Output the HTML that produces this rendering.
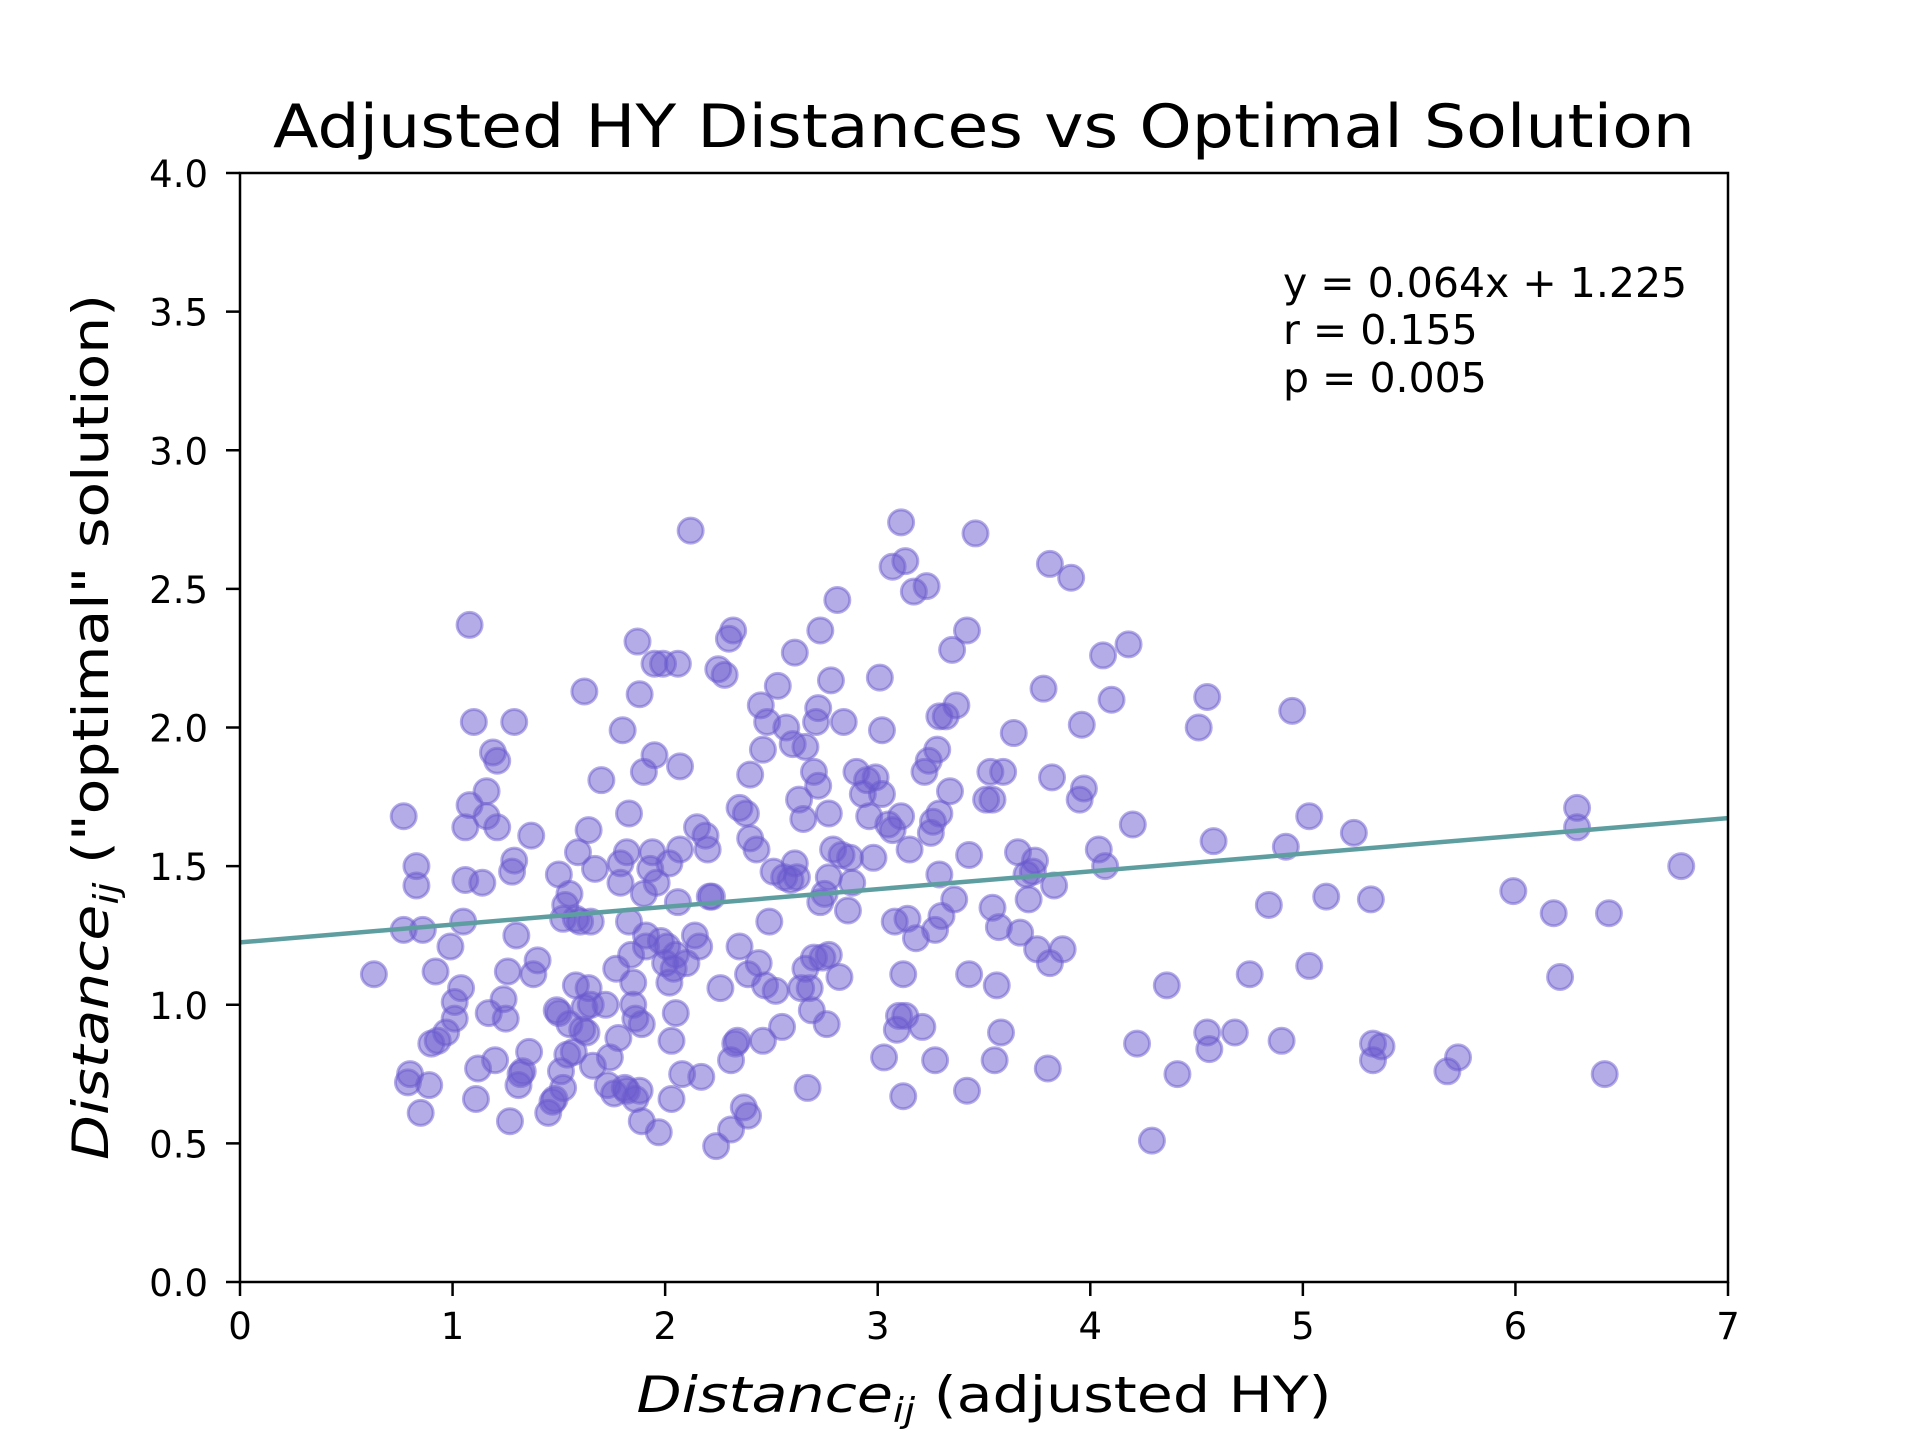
<!DOCTYPE html>
<html><head><meta charset="utf-8"><style>
html,body{margin:0;padding:0;background:#fff}
svg{display:block;font-family:"DejaVu Sans","Liberation Sans",sans-serif}
</style></head><body>
<svg id="chart" width="1920" height="1440" viewBox="0 0 1920 1440">
<rect width="1920" height="1440" fill="#fff"/>
<text x="984" y="147" font-size="60" text-anchor="middle" textLength="1422" lengthAdjust="spacingAndGlyphs">Adjusted HY Distances vs Optimal Solution</text>
<g id="ticks"></g>
<g id="points"></g>
<g id="fit"></g>
<rect x="240" y="173" width="1488" height="1109" fill="none" stroke="#000" stroke-width="2.5"/>
<g font-size="41">
<text x="1283" y="297">y = 0.064x + 1.225</text>
<text x="1283" y="344">r = 0.155</text>
<text x="1283" y="392">p = 0.005</text>
</g>
<text x="984" y="1412" font-size="50" text-anchor="middle" textLength="695" lengthAdjust="spacingAndGlyphs"><tspan font-style="italic">Distance</tspan><tspan font-style="italic" font-size="34" dy="10">ij</tspan><tspan dy="-10"> (adjusted HY)</tspan></text>
<text transform="translate(108,727) rotate(-90)" font-size="50" text-anchor="middle" textLength="866" lengthAdjust="spacingAndGlyphs"><tspan font-style="italic">Distance</tspan><tspan font-style="italic" font-size="34" dy="10">ij</tspan><tspan dy="-10"> ("optimal" solution)</tspan></text>
</svg>
<script>
const xTicks=[0,1,2,3,4,5,6,7];
const yTicks=[0.0,0.5,1.0,1.5,2.0,2.5,3.0,3.5,4.0];
const slope=0.064, intercept=1.225;
const xs=[0.63,0.77,0.77,0.79,0.80,0.83,0.83,0.85,0.86,0.89,0.90,0.92,0.93,0.97,0.99,1.01,1.01,1.04,1.05,1.06,1.06,1.08,1.08,1.10,1.11,1.12,1.14,1.16,1.16,1.17,1.19,1.20,1.21,1.21,1.24,1.25,1.26,1.27,1.28,1.29,1.29,1.30,1.31,1.32,1.33,1.36,1.37,1.38,1.40,1.45,1.47,1.48,1.49,1.50,1.50,1.51,1.52,1.52,1.53,1.54,1.55,1.55,1.57,1.58,1.58,1.59,1.60,1.61,1.62,1.62,1.63,1.64,1.64,1.65,1.65,1.66,1.67,1.70,1.72,1.73,1.74,1.76,1.77,1.78,1.79,1.79,1.80,1.81,1.82,1.82,1.83,1.83,1.84,1.85,1.85,1.86,1.86,1.87,1.88,1.88,1.89,1.89,1.90,1.90,1.91,1.91,1.93,1.94,1.95,1.95,1.96,1.97,1.98,1.99,2.00,2.01,2.02,2.02,2.03,2.03,2.04,2.05,2.05,2.06,2.06,2.07,2.07,2.08,2.10,2.12,2.14,2.15,2.16,2.17,2.19,2.20,2.21,2.22,2.24,2.25,2.26,2.28,2.30,2.31,2.31,2.32,2.33,2.34,2.35,2.35,2.37,2.38,2.39,2.39,2.40,2.40,2.43,2.44,2.45,2.46,2.46,2.47,2.48,2.49,2.51,2.52,2.53,2.55,2.56,2.57,2.59,2.60,2.61,2.61,2.62,2.63,2.64,2.65,2.66,2.66,2.67,2.68,2.69,2.70,2.70,2.71,2.72,2.72,2.73,2.73,2.74,2.75,2.76,2.77,2.77,2.77,2.78,2.79,2.81,2.82,2.83,2.84,2.86,2.87,2.88,2.90,2.93,2.95,2.96,2.98,2.99,3.01,3.02,3.02,3.03,3.05,3.07,3.07,3.08,3.09,3.10,3.11,3.11,3.12,3.12,3.13,3.13,3.14,3.15,3.17,3.18,3.21,3.22,3.23,3.24,3.25,3.26,3.27,3.27,3.28,3.29,3.29,3.29,3.30,3.32,3.34,3.35,3.36,3.37,3.42,3.42,3.43,3.43,3.46,3.51,3.53,3.54,3.54,3.55,3.56,3.57,3.58,3.59,3.64,3.66,3.67,3.70,3.71,3.73,3.74,3.75,3.78,3.80,3.81,3.81,3.82,3.83,3.87,3.91,3.95,3.96,3.97,4.04,4.06,4.07,4.10,4.18,4.20,4.22,4.29,4.36,4.41,4.51,4.55,4.55,4.56,4.58,4.68,4.75,4.84,4.90,4.92,4.95,5.03,5.03,5.11,5.24,5.32,5.33,5.33,5.37,5.68,5.73,5.99,6.18,6.21,6.29,6.29,6.42,6.44,6.78];
const ys=[1.11,1.27,1.68,0.72,0.75,1.43,1.50,0.61,1.27,0.71,0.86,1.12,0.87,0.90,1.21,0.95,1.01,1.06,1.30,1.45,1.64,1.72,2.37,2.02,0.66,0.77,1.44,1.68,1.77,0.97,1.91,0.80,1.64,1.88,1.02,0.95,1.12,0.58,1.48,1.52,2.02,1.25,0.71,0.75,0.76,0.83,1.61,1.11,1.16,0.61,0.65,0.66,0.98,0.97,1.47,0.76,1.31,0.70,1.36,0.82,1.40,0.93,0.83,1.07,1.31,1.55,1.30,0.91,0.99,2.13,0.90,1.06,1.63,1.00,1.30,0.78,1.49,1.81,1.00,0.71,0.81,0.68,1.13,0.88,1.51,1.44,1.99,0.70,1.55,0.69,1.30,1.69,1.18,1.08,1.00,0.95,0.66,2.31,0.69,2.12,0.93,0.58,1.40,1.84,1.21,1.25,1.49,1.55,2.23,1.90,1.44,0.54,1.23,2.23,1.15,1.21,1.51,1.08,0.87,0.66,1.13,1.18,0.97,1.37,2.23,1.86,1.56,0.75,1.15,2.71,1.25,1.64,1.21,0.74,1.61,1.56,1.39,1.39,0.49,2.21,1.06,2.19,2.32,0.55,0.80,2.35,0.86,0.87,1.71,1.21,0.63,1.69,0.60,1.11,1.83,1.60,1.56,1.15,2.08,0.87,1.92,1.07,2.02,1.30,1.48,1.05,2.15,0.92,1.46,2.00,1.45,1.94,2.27,1.51,1.46,1.74,1.06,1.67,1.13,1.93,0.70,1.06,0.98,1.84,1.17,2.02,1.79,2.07,1.37,2.35,1.17,1.40,0.93,1.46,1.18,1.69,2.17,1.56,2.46,1.10,1.54,2.02,1.34,1.53,1.44,1.84,1.76,1.81,1.68,1.53,1.82,2.18,1.99,1.76,0.81,1.65,2.58,1.63,1.30,0.91,0.96,2.74,1.68,1.11,0.67,0.96,2.60,1.31,1.56,2.49,1.24,0.92,1.84,2.51,1.88,1.62,1.66,1.27,0.80,1.92,2.04,1.69,1.47,1.32,2.04,1.77,2.28,1.38,2.08,0.69,2.35,1.11,1.54,2.70,1.74,1.84,1.35,1.74,0.80,1.07,1.28,0.90,1.84,1.98,1.55,1.26,1.47,1.38,1.48,1.52,1.20,2.14,0.77,2.59,1.15,1.82,1.43,1.20,2.54,1.74,2.01,1.78,1.56,2.26,1.50,2.10,2.30,1.65,0.86,0.51,1.07,0.75,2.00,2.11,0.90,0.84,1.59,0.90,1.11,1.36,0.87,1.57,2.06,1.68,1.14,1.39,1.62,1.38,0.86,0.80,0.85,0.76,0.81,1.41,1.33,1.10,1.71,1.64,0.75,1.33,1.50];
const NS='http://www.w3.org/2000/svg';
const L=240,R=1728,T=173,B=1282;
const sx=v=>L+(v-0)/(7-0)*(R-L);
const sy=v=>B-(v-0)/(4-0)*(B-T);
const tg=document.getElementById('ticks');
function mk(tag,attrs,parent){const e=document.createElementNS(NS,tag);for(const k in attrs)e.setAttribute(k,attrs[k]);parent.appendChild(e);return e;}
xTicks.forEach(t=>{
  const ln=mk('line',{x1:sx(t),x2:sx(t),y1:B,y2:B+14,stroke:'#000','stroke-width':2.5},tg);
  
  
  const tx=mk('text',{x:sx(t),y:B+57,'font-size':37,'text-anchor':'middle'},tg);
  tx.textContent=String(t);
  
  
});
yTicks.forEach(t=>{
  const ln=mk('line',{x1:L-14,x2:L,y1:sy(t),y2:sy(t),stroke:'#000','stroke-width':2.5},tg);
  
  
  const tx=mk('text',{x:L-32,y:sy(t)+14,'font-size':37,'text-anchor':'end'},tg);
  tx.textContent=t.toFixed(1);
  
  
});
const pg=document.getElementById('points');
xs.forEach((x,i)=>{
  const c=mk('circle',{cx:sx(x),cy:sy(ys[i]),r:12.5,fill:'#6a5acd','fill-opacity':0.5,stroke:'#6a5acd','stroke-opacity':0.5,'stroke-width':3},pg);
  
  
});
const fg=document.getElementById('fit');
const fl=mk('line',{x1:sx(0),y1:sy(intercept),x2:sx(7),y2:sy(slope*7+intercept),stroke:'#5f9ea0','stroke-width':4.5},fg);


</script>
</body></html>
